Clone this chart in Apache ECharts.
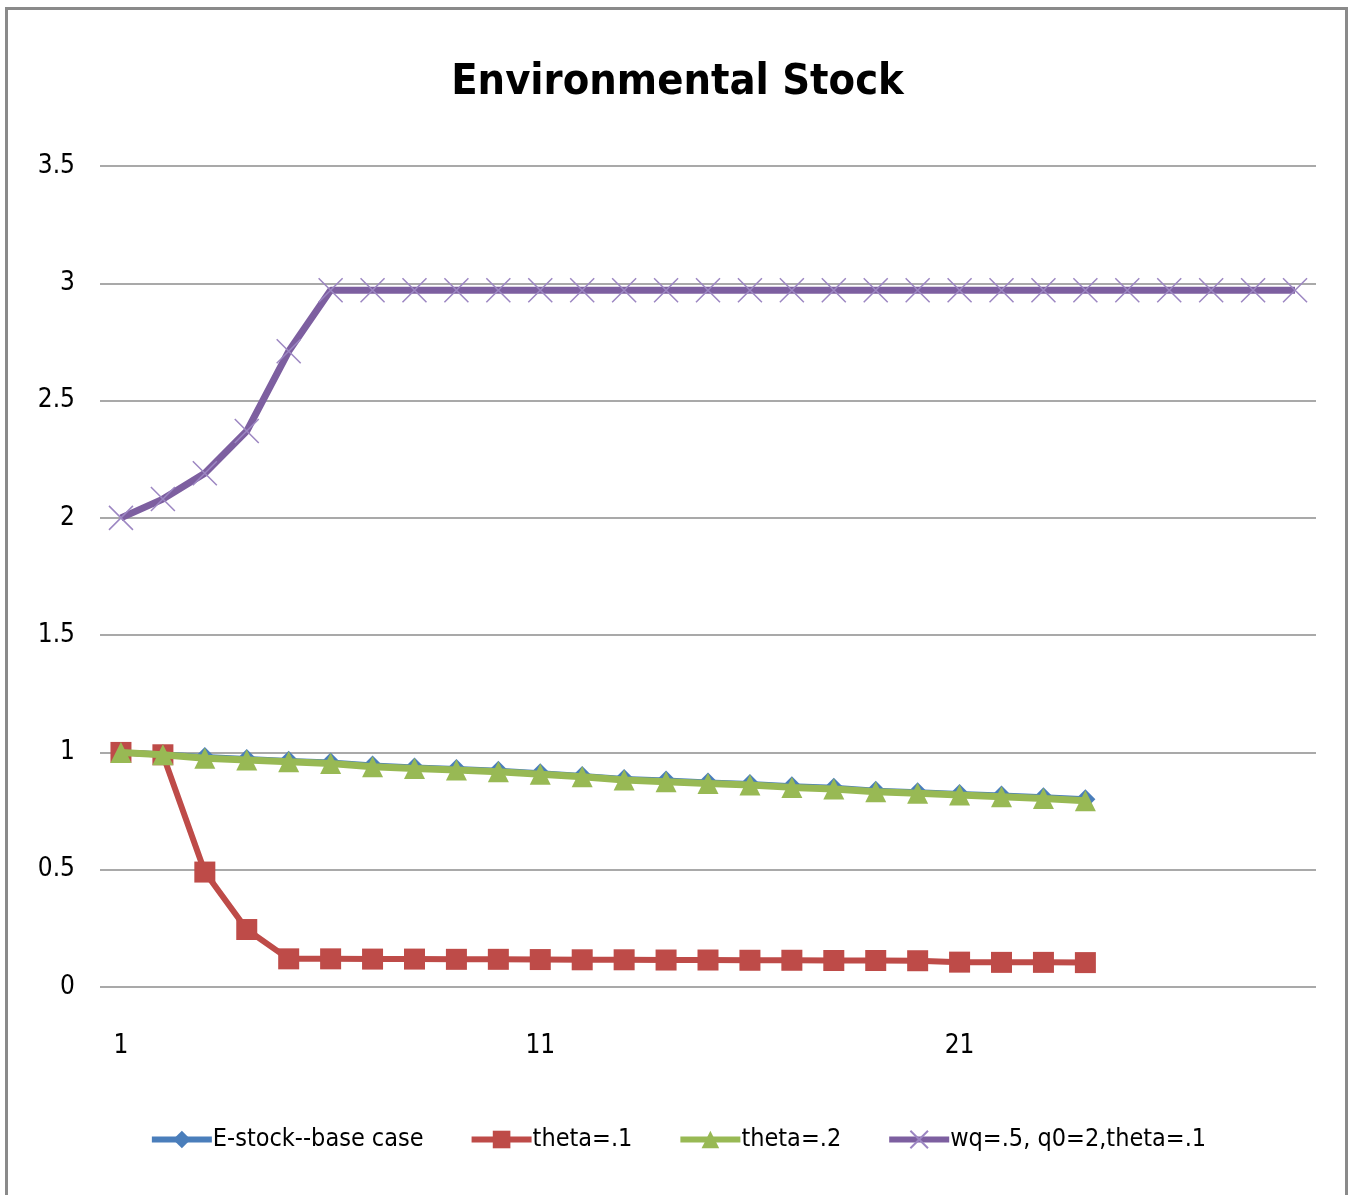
<!DOCTYPE html>
<html>
<head>
<meta charset="utf-8">
<title>Environmental Stock</title>
<script src="https://cdn.jsdelivr.net/npm/echarts@6/dist/echarts.min.js"></script>
<style>
  html, body { margin: 0; padding: 0; background: #ffffff; }
  #frame {
    position: absolute; left: 5px; top: 7px; width: 1337px; height: 1200px;
    border: 3px solid #8a8a8a; border-bottom: none; background: #fff;
  }
  #chart { position: absolute; left: 0; top: 0; width: 1355px; height: 1195px; }
</style>
</head>
<body>
<div id="frame"></div>
<div id="chart"></div>
<script>
// Period index along the x axis
const periods = Array.from({ length: 29 }, (_, i) => String(i + 1));

// Environmental stock per scenario
const baseCase = [1.0, 0.992, 0.98, 0.972, 0.964, 0.957, 0.944, 0.936, 0.929, 0.922, 0.911, 0.9,
  0.887, 0.88, 0.872, 0.865, 0.856, 0.849, 0.837, 0.83, 0.823, 0.816, 0.809, 0.8];
const theta1 = [1.0, 0.99, 0.49, 0.245, 0.12, 0.12, 0.119, 0.119, 0.118, 0.118, 0.117, 0.116,
  0.116, 0.115, 0.115, 0.114, 0.114, 0.113, 0.113, 0.112, 0.106, 0.105, 0.105, 0.104];
const theta2 = [1.0, 0.99, 0.975, 0.968, 0.96, 0.953, 0.939, 0.932, 0.925, 0.918, 0.907, 0.896,
  0.882, 0.875, 0.868, 0.861, 0.851, 0.844, 0.832, 0.826, 0.818, 0.811, 0.804, 0.794];
const wqCase = [2.0, 2.08, 2.19, 2.37, 2.71, 2.97, 2.97, 2.97, 2.97, 2.97, 2.97, 2.97, 2.97,
  2.97, 2.97, 2.97, 2.97, 2.97, 2.97, 2.97, 2.97, 2.97, 2.97, 2.97, 2.97, 2.97, 2.97, 2.97, 2.97];

const seriesNames = ['E-stock--base case', 'theta=.1', 'theta=.2', 'wq=.5, q0=2,theta=.1'];

const FONT = "'Liberation Sans Narrow', 'DejaVu Sans Condensed', 'Open Sans', sans-serif";
const crossPath = 'path://M0,0L10,10M10,0L0,10';

const chart = echarts.init(document.getElementById('chart'), null, { renderer: 'canvas' });

chart.setOption({
  backgroundColor: 'transparent',
  animation: false,
  title: {
    text: 'Environmental Stock',
    left: 'center',
    top: 56,
    textStyle: { fontFamily: FONT, fontSize: 43, fontWeight: 'bold', color: '#000' }
  },
  grid: { left: 100, right: 39, top: 166, bottom: 208, containLabel: false },
  xAxis: {
    type: 'category',
    data: periods,
    boundaryGap: true,
    axisLine: { show: false },
    axisTick: { show: false },
    axisLabel: {
      interval: 9, margin: 46, color: '#000',
      fontFamily: FONT, fontSize: 26
    },
    splitLine: { show: false }
  },
  yAxis: {
    type: 'value',
    min: 0, max: 3.5, interval: 0.5,
    axisLine: { show: false },
    axisTick: { show: false },
    axisLabel: { margin: 25, color: '#000', fontFamily: FONT, fontSize: 26 },
    splitLine: { lineStyle: { color: '#8c8c8c', width: 1.5 } }
  },
  legend: {
    bottom: 38,
    left: 'center',
    itemGap: 45,
    itemWidth: 60,
    itemHeight: 22,
    lineStyle: { width: 6 },
    textStyle: { fontFamily: FONT, fontSize: 25, color: '#000', padding: [0, 0, 0, -4] },
    data: seriesNames
  },
  series: [
    {
      name: seriesNames[3], type: 'line', data: wqCase, z: 2,
      symbol: crossPath, symbolSize: 24,
      lineStyle: { color: '#7d5fa0', width: 7 },
      itemStyle: { color: 'rgba(0,0,0,0)', borderColor: '#9c86c2', borderWidth: 1.5 }
    },
    {
      name: seriesNames[0], type: 'line', data: baseCase, z: 3,
      symbol: 'diamond', symbolSize: 20,
      lineStyle: { color: '#4a7ebb', width: 6 },
      itemStyle: { color: '#4a7ebb' }
    },
    {
      name: seriesNames[1], type: 'line', data: theta1, z: 4,
      symbol: 'rect', symbolSize: 21,
      lineStyle: { color: '#be4b48', width: 6 },
      itemStyle: { color: '#be4b48' }
    },
    {
      name: seriesNames[2], type: 'line', data: theta2, z: 5,
      symbol: 'triangle', symbolSize: 21,
      lineStyle: { color: '#98b954', width: 7 },
      itemStyle: { color: '#98b954' }
    }
  ]
});
</script>
</body>
</html>
